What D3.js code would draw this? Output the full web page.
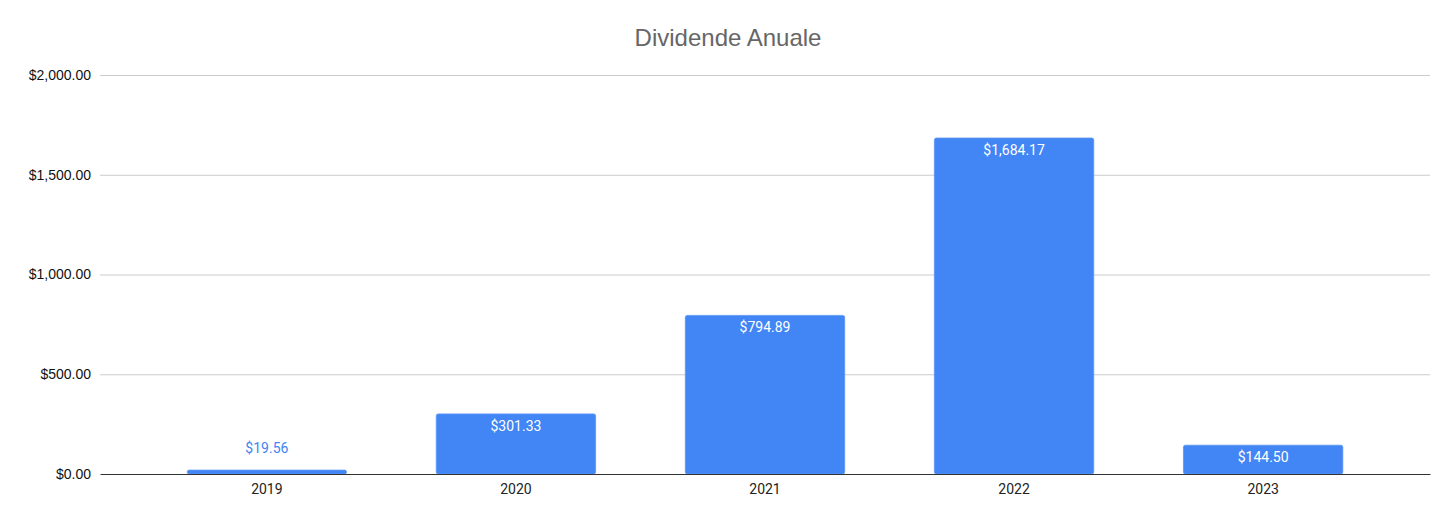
<!DOCTYPE html>
<html>
<head>
<meta charset="utf-8">
<script src="https://cdn.jsdelivr.net/npm/d3@7"></script>
<style>
  body { margin: 0; background: #fff; }
</style>
</head>
<body>
<div id="chart"></div>
<script>
// data
var years = ["2019", "2020", "2021", "2022", "2023"];
var dividends = [19.56, 301.33, 794.89, 1684.17, 144.50];
var yTicks = [0, 500, 1000, 1500, 2000];

var W = 1456, H = 522;
var margin = {top: 75, right: 26, bottom: 48, left: 100},
    width = W - margin.left - margin.right,
    height = H - margin.top - margin.bottom;

var fmt = function(v) { return "$" + d3.format(",.2f")(v); };

var svg = d3.select("#chart")
    .append("svg")
    .attr("width", W)
    .attr("height", H);

svg.append("text")
    .attr("x", 728)
    .attr("y", 46)
    .attr("text-anchor", "middle")
    .style("font-family", "Liberation Sans, Arial, sans-serif")
    .style("font-size", "24px")
    .attr("fill", "#666666")
    .text("Dividende Anuale");

var g = svg.append("g")
    .attr("transform", "translate(" + margin.left + "," + margin.top + ")");

var x = d3.scaleBand()
    .domain(years)
    .range([0, width])
    .paddingInner(0.36)
    .paddingOuter(0.35);

var y = d3.scaleLinear()
    .domain([0, 2000])
    .range([height, 0]);

// gridlines + y labels
var yAxis = g.append("g")
    .call(d3.axisLeft(y).tickValues(yTicks).tickSize(-width).tickPadding(9).tickFormat(fmt));
yAxis.select(".domain").remove();
yAxis.selectAll(".tick line")
    .attr("stroke", function(d) { return d === 0 ? "none" : "#cccccc"; });
yAxis.selectAll(".tick text")
    .style("font-family", "Liberation Sans, Arial, sans-serif")
    .style("font-size", "14px")
    .attr("fill", "#111111");

// bars
g.selectAll("rect.bar")
    .data(dividends)
    .enter().append("rect")
    .attr("class", "bar")
    .attr("x", function(d, i) { return x(years[i]); })
    .attr("y", function(d) { return y(d); })
    .attr("width", x.bandwidth())
    .attr("height", function(d) { return height - y(d); })
    .attr("rx", 2)
    .attr("fill", "#4285f4")
    .attr("stroke", "#5a95f5")
    .attr("stroke-width", 0.8);

// value labels
g.selectAll("text.val")
    .data(dividends)
    .enter().append("text")
    .attr("class", "val")
    .attr("x", function(d, i) { return x(years[i]) + x.bandwidth() / 2; })
    .attr("y", function(d) { return height - y(d) < 25 ? y(d) - 17 : y(d) + 17; })
    .attr("text-anchor", "middle")
    .style("font-family", "Roboto, sans-serif")
    .style("font-size", "14px")
    .attr("fill", function(d) { return height - y(d) < 25 ? "#4285f4" : "#ffffff"; })
    .text(fmt);

// baseline + x labels
var xAxis = g.append("g")
    .attr("transform", "translate(0," + height + ")")
    .call(d3.axisBottom(x).tickSize(0).tickPadding(10));
xAxis.select(".domain").attr("stroke", "#333333");
xAxis.selectAll(".tick text")
    .style("font-family", "Roboto, sans-serif")
    .style("font-size", "14px")
    .attr("fill", "#222222");
</script>
</body>
</html>
